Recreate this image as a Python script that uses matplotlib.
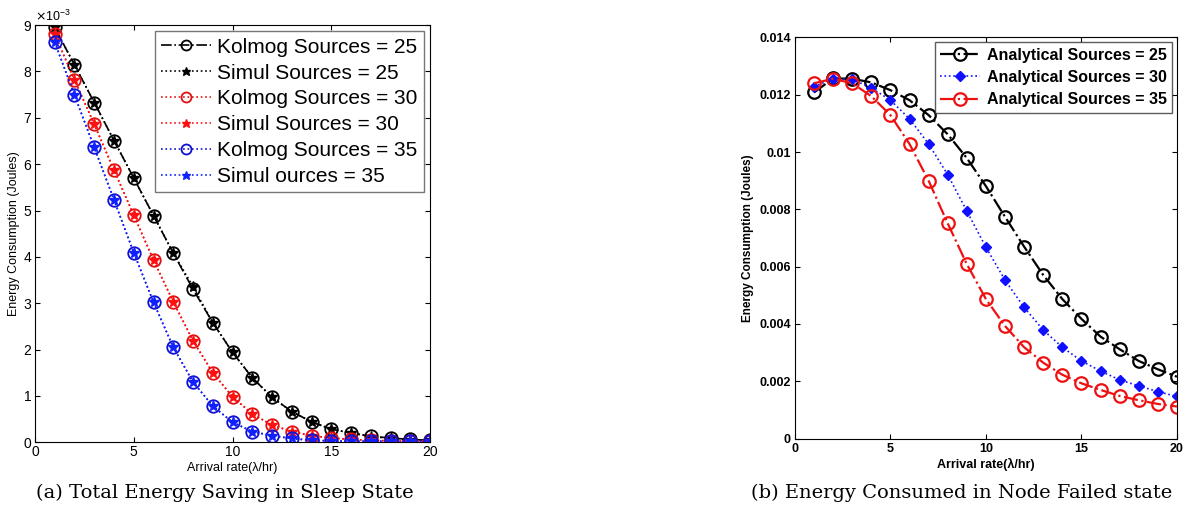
import matplotlib.pyplot as plt
import matplotlib.ticker as mticker

rate = list(range(1, 21))

# (a) energy saving in sleep state, units of 1e-3 J
kolmog_25 = [8.95, 8.14, 7.33, 6.51, 5.70, 4.89, 4.08, 3.30, 2.58, 1.94,
             1.39, 0.97, 0.66, 0.44, 0.28, 0.20, 0.13, 0.09, 0.06, 0.04]
simul_25 = [8.95, 8.14, 7.33, 6.51, 5.70, 4.89, 4.08, 3.36, 2.58, 1.94,
            1.39, 0.97, 0.66, 0.44, 0.28, 0.20, 0.12, 0.08, 0.05, 0.04]
kolmog_30 = [8.80, 7.82, 6.86, 5.87, 4.90, 3.93, 3.03, 2.19, 1.50, 0.98,
             0.61, 0.37, 0.23, 0.14, 0.09, 0.06, 0.04, 0.03, 0.02, 0.02]
simul_30 = kolmog_30
kolmog_35 = [8.63, 7.49, 6.36, 5.23, 4.09, 3.02, 2.05, 1.30, 0.78, 0.43,
             0.23, 0.14, 0.08, 0.04, 0.03, 0.02, 0.02, 0.02, 0.02, 0.02]
simul_35 = kolmog_35

# (b) energy consumed in node failed state, J
anal_25 = [0.01208, 0.01257, 0.01256, 0.01243, 0.01216, 0.01181, 0.01129, 0.01062,
           0.00979, 0.00881, 0.00774, 0.00670, 0.00571, 0.00487, 0.00418, 0.00356,
           0.00312, 0.00271, 0.00242, 0.00216]
anal_30 = [0.01228, 0.01256, 0.01254, 0.01224, 0.01181, 0.01116, 0.01028, 0.00921,
           0.00794, 0.00668, 0.00553, 0.00458, 0.00379, 0.00319, 0.00271, 0.00236,
           0.00205, 0.00184, 0.00164, 0.00147]
anal_35 = [0.01240, 0.01256, 0.01240, 0.01195, 0.01129, 0.01028, 0.00900, 0.00751,
           0.00609, 0.00487, 0.00393, 0.00319, 0.00265, 0.00223, 0.00193, 0.00170,
           0.00149, 0.00134, 0.00121, 0.00112]

plt.rcParams['font.family'] = ['Liberation Sans', 'DejaVu Sans']
fig = plt.figure(figsize=(11.9, 5.13), dpi=100)

# ---- left panel
ax1 = fig.add_axes([0.0294, 0.138, 0.332, 0.813])
s = 1e-3
ax1.plot(rate, [v * s for v in kolmog_25], '-.', color='k', marker='o', mfc='none',
         ms=9, mew=1.3, lw=1.2, label='Kolmog Sources = 25')
ax1.plot(rate, [v * s for v in simul_25], ':', color='k', marker='*',
         ms=8, lw=1.2, label='Simul Sources = 25')
ax1.plot(rate, [v * s for v in kolmog_30], ':', color='#e01010', marker='o', mfc='none',
         ms=9, mew=1.3, lw=1.2, label='Kolmog Sources = 30')
ax1.plot(rate, [v * s for v in simul_30], ':', color='#ff1010', marker='*',
         ms=8, lw=1.2, label='Simul Sources = 30')
ax1.plot(rate, [v * s for v in kolmog_35], ':', color='#1010d0', marker='o', mfc='none',
         ms=9, mew=1.3, lw=1.2, label='Kolmog Sources = 35')
ax1.plot(rate, [v * s for v in simul_35], ':', color='#1020ff', marker='*',
         ms=8, lw=1.2, label='Simul ources = 35')
ax1.set_xlim(0, 20)
ax1.set_ylim(0, 9e-3)
ax1.set_xticks([0, 5, 10, 15, 20])
ax1.set_yticks([i * 1e-3 for i in range(10)])
fmt = mticker.ScalarFormatter(useMathText=True)
fmt.set_powerlimits((-3, -3))
ax1.yaxis.set_major_formatter(fmt)
ax1.yaxis.get_offset_text().set_fontsize(9)
ax1.tick_params(direction='in', top=True, right=True, labelsize=10, pad=2)
ax1.set_xlabel('Arrival rate(λ/hr)', fontsize=9, labelpad=2)
ax1.set_ylabel('Energy Consumption (Joules)', fontsize=9, labelpad=2)
ax1.legend(loc='upper right', fontsize=15, handlelength=2.4, borderaxespad=0.3,
           fancybox=False, edgecolor='#555555', labelspacing=0.33, handletextpad=0.3,
           borderpad=0.3, markerscale=0.8)

# ---- right panel
ax2 = fig.add_axes([0.668, 0.145, 0.321, 0.782])
ax2.plot(rate, anal_25, '-.', color='k', marker='o', mfc='none', ms=9, mew=1.6,
         lw=1.6, label='Analytical Sources = 25')
ax2.plot(rate, anal_30, ':', color='#1010ff', marker='D', ms=5, lw=1.2,
         label='Analytical Sources = 30')
ax2.plot(rate, anal_35, '-.', color='#ee1111', marker='o', mfc='none', ms=9, mew=1.6,
         lw=1.6, label='Analytical Sources = 35')
ax2.set_xlim(0, 20)
ax2.set_ylim(0, 0.014)
ax2.set_xticks([0, 5, 10, 15, 20])
ax2.set_yticks([0, 0.002, 0.004, 0.006, 0.008, 0.01, 0.012, 0.014])
ax2.set_yticklabels(['0', '0.002', '0.004', '0.006', '0.008', '0.01', '0.012', '0.014'])
ax2.tick_params(direction='in', top=True, right=True, labelsize=9, pad=3)
for lab in ax2.get_xticklabels() + ax2.get_yticklabels():
    lab.set_fontweight('bold')
ax2.set_xlabel('Arrival rate(λ/hr)', fontsize=9, fontweight='bold', labelpad=2)
ax2.set_ylabel('Energy Consumption (Joules)', fontsize=8.5, fontweight='bold', labelpad=4)
ax2.legend(loc='upper right', prop={'size': 11.5, 'weight': 'bold'}, handlelength=2.5,
           borderaxespad=0.3, fancybox=False, edgecolor='#333333',
           labelspacing=0.45, handletextpad=0.4, borderpad=0.35)

# captions
fig.text(0.189, 0.030, '(a) Total Energy Saving in Sleep State', ha='center',
         fontsize=14, family=['DejaVu Serif'])
fig.text(0.808, 0.030, '(b) Energy Consumed in Node Failed state', ha='center',
         fontsize=14, family=['DejaVu Serif'])

fig.savefig('out.png', dpi=100)
